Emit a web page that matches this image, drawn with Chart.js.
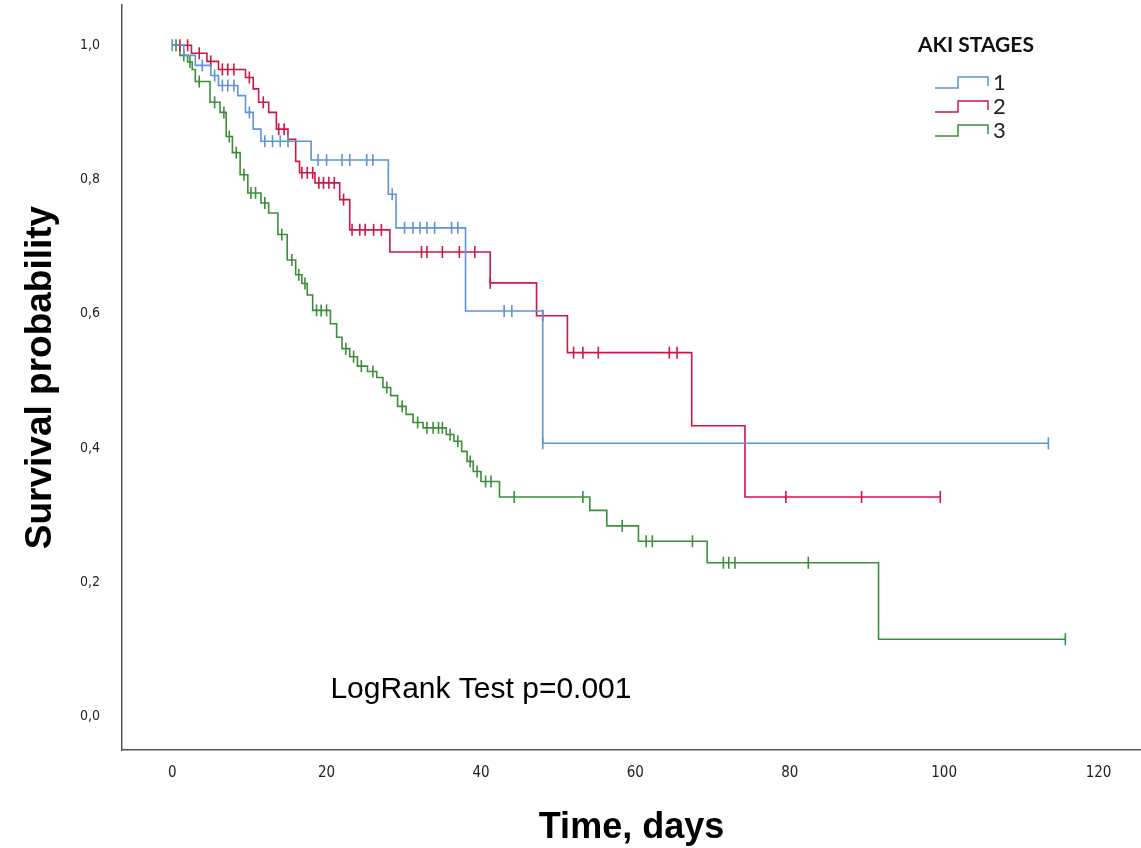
<!DOCTYPE html>
<html>
<head>
<meta charset="utf-8">
<script src="https://cdn.jsdelivr.net/npm/chart.js@4/dist/chart.umd.min.js"></script>
<style>
  body { margin: 0; background: #fff; }
  canvas { display: block; }
</style>
</head>
<body>
<canvas id="kmChart" width="1141" height="848"></canvas>
<script>
// tick labels
const xTicks = [0, 20, 40, 60, 80, 100, 120];
const yTicks = [0, 0.2, 0.4, 0.6, 0.8, 1.0];
const yTickLabels = ['0,0', '0,2', '0,4', '0,6', '0,8', '1,0'];

const stageLabels = ['1', '2', '3'];
const stageColors = ['#5e93d6', '#cc1745', '#3c8d3c'];

// stage 1 - event times (days) and survival after each step
const stage1Times = [0, 1.5, 3, 5, 6, 8.5, 9.5, 10.5, 11.5, 18, 28, 29, 38, 48];
const stage1Surv = [1, 0.985, 0.97, 0.955, 0.94, 0.925, 0.9, 0.875, 0.857, 0.829, 0.778, 0.728, 0.604, 0.407];
const stage1Censored = [0, 3.9, 5.5, 6.5, 7.2, 8, 10, 12, 13, 14, 15, 18.9, 20, 22, 23, 25.2, 26, 28.5,
  30.1, 31.2, 32.1, 33, 34, 36.2, 37, 43, 44, 48, 113.5];

// stage 2
const stage2Times = [0, 2.5, 4.5, 6, 9.5, 10.5, 11.2, 12.5, 13.5, 15, 16, 16.5, 18.5, 21.7, 23, 28.2, 41.2, 47.2, 51.2, 67.3, 74.2];
const stage2Surv = [1, 0.988, 0.976, 0.964, 0.952, 0.935, 0.915, 0.9, 0.875, 0.86, 0.827, 0.81, 0.795, 0.77, 0.725, 0.692, 0.646, 0.597, 0.542, 0.433, 0.327];
const stage2Censored = [1, 2, 3.5, 5, 6.5, 7.2, 8, 10, 11.8, 13.8, 14.5, 16.8, 17.5, 18.2, 19, 19.6, 20.3, 21, 22.2,
  23.3, 24.3, 25, 26.1, 27.1, 32.3, 33, 35, 37.2, 39.2, 41.2, 48, 52, 53.2, 55.2, 64.4, 65.4, 79.5, 89.3, 99.5];

// stage 3
const stage3Times = [0, 1, 2, 2.6, 3, 4.9, 6.2, 7, 7.8, 8.8, 9.8, 11.5, 12.5, 13.7, 14.9, 16, 16.8, 17.5, 18.2, 20.5,
  21.3, 22, 23, 24, 25.3, 26.5, 27.3, 28.3, 29.2, 30.3, 31.2, 32.5, 35.5, 36.5, 37.5, 38.2, 39, 40, 42.4, 54.1,
  56.3, 60.4, 69.3, 91.5];
const stage3Surv = [1, 0.985, 0.975, 0.964, 0.946, 0.915, 0.9, 0.864, 0.84, 0.807, 0.78, 0.765, 0.75, 0.718, 0.68,
  0.658, 0.645, 0.628, 0.605, 0.585, 0.565, 0.548, 0.536, 0.522, 0.514, 0.505, 0.49, 0.478, 0.462, 0.45, 0.438,
  0.43, 0.42, 0.41, 0.395, 0.38, 0.365, 0.35, 0.327, 0.307, 0.284, 0.261, 0.229, 0.115];
const stage3Censored = [0.5, 1.5, 2.3, 3.5, 5.5, 6.7, 7.4, 8.3, 9.3, 10.2, 10.8, 12, 14.2, 15.5, 16.4, 17.2, 18.7,
  19.3, 20, 22.5, 23.5, 24.5, 26, 27.8, 29.8, 31.8, 33, 33.8, 34.5, 35, 36, 37, 38.6, 39.5, 40.6, 41.3, 44.3,
  53.2, 58.3, 61.4, 62.2, 67.4, 71.4, 72.1, 72.9, 82.4, 115.7];

const legendTitle = 'AKI STAGES';
const noteText = 'LogRank Test p=0.001';
const noteX = 40;
const noteY = 0.04;

const stages = [
  { times: stage1Times, surv: stage1Surv, cens: stage1Censored },
  { times: stage2Times, surv: stage2Surv, cens: stage2Censored },
  { times: stage3Times, surv: stage3Surv, cens: stage3Censored },
];

const survAt = (times, surv, t) => {
  let s = surv[0];
  times.forEach((ti, i) => { if (ti <= t) s = surv[i]; });
  return s;
};

const datasets = [];
stages.forEach((st, i) => {
  const pts = st.times.map((t, j) => ({ x: t, y: st.surv[j] }));
  pts.push({ x: Math.max(...st.cens), y: st.surv[st.surv.length - 1] });
  datasets.push({
    label: stageLabels[i],
    data: pts,
    showLine: true,
    stepped: true,
    borderColor: stageColors[i],
    borderWidth: 1.6,
    pointRadius: 0,
    fill: false,
  });
  datasets.push({
    label: stageLabels[i] + ' censored',
    data: st.cens.map(t => ({ x: t, y: survAt(st.times, st.surv, t) })),
    showLine: false,
    pointStyle: 'line',
    rotation: 90,
    pointRadius: 6,
    pointBorderWidth: 1.6,
    borderColor: stageColors[i],
    backgroundColor: stageColors[i],
  });
});

const overlayPlugin = {
  id: 'overlay',
  afterDraw(chart) {
    const { ctx, scales: { x, y } } = chart;
    ctx.save();
    ctx.fillStyle = '#000';
    ctx.font = '30px "Liberation Sans", Arial, sans-serif';
    ctx.textAlign = 'center';
    ctx.textBaseline = 'middle';
    ctx.fillText(noteText, x.getPixelForValue(noteX), y.getPixelForValue(noteY));

    // legend
    ctx.textAlign = 'left';
    ctx.fillStyle = '#111';
    ctx.font = 'bold 21px Lato, sans-serif';
    ctx.fillText(legendTitle, 918, 45);
    stageLabels.forEach((lab, i) => {
      const yy = 83 + i * 24;
      ctx.strokeStyle = stageColors[i];
      ctx.lineWidth = 1.5;
      ctx.beginPath();
      ctx.moveTo(935, yy + 5);
      ctx.lineTo(958, yy + 5);
      ctx.lineTo(958, yy - 6);
      ctx.lineTo(988, yy - 6);
      ctx.lineTo(988, yy + 3);
      ctx.stroke();
      ctx.fillStyle = '#222';
      ctx.font = '22px Lato, sans-serif';
      ctx.fillText(lab, 993, yy);
    });
    ctx.restore();
  }
};

const ctx = document.getElementById('kmChart').getContext('2d');
const kmChart = new Chart(ctx, {
  type: 'scatter',
  data: { datasets: datasets },
  options: {
    responsive: false,
    animation: false,
    layout: { autoPadding: false, padding: { top: 5, right: 0, left: 0, bottom: 0 } },
    plugins: {
      legend: { display: false },
      tooltip: { enabled: false },
    },
    scales: {
      x: {
        type: 'linear',
        min: -6.5,
        max: 125.5,
        grid: { display: false, drawTicks: false },
        border: { display: true, color: '#555', width: 1.5 },
        afterBuildTicks: scale => { scale.ticks = xTicks.map(v => ({ value: v })); },
        afterFit: scale => {
          scale.height = 98;
          scale.paddingLeft = 0;
          scale.paddingRight = 0;
        },
        ticks: {
          padding: 14,
          color: '#222',
          font: { family: '"DejaVu Sans Condensed", "DejaVu Sans", sans-serif', size: 15 },
          callback: v => String(v),
        },
        title: {
          display: true,
          text: 'Time, days',
          color: '#000',
          font: { family: '"Liberation Sans Narrow", "Liberation Sans", sans-serif', size: 36, weight: 'bold', lineHeight: 1 },
          padding: { top: 0, bottom: 2 },
        },
      },
      y: {
        type: 'linear',
        min: -0.05,
        max: 1.06,
        grid: { display: false, drawTicks: false },
        border: { display: true, color: '#555', width: 1.5 },
        afterBuildTicks: scale => { scale.ticks = yTicks.map(v => ({ value: v })); },
        afterFit: scale => {
          scale.width = 122;
          scale.paddingTop = 0;
          scale.paddingBottom = 0;
        },
        ticks: {
          padding: 22,
          color: '#222',
          font: { family: '"DejaVu Sans Condensed", "DejaVu Sans", sans-serif', size: 14 },
          callback: v => yTickLabels[yTicks.findIndex(t => Math.abs(t - v) < 1e-6)],
        },
        title: {
          display: true,
          text: 'Survival probability',
          color: '#000',
          font: { family: '"Liberation Sans Narrow", "Liberation Sans", sans-serif', size: 37, weight: 'bold', lineHeight: 1 },
          padding: { top: 22, bottom: 0 },
        },
      },
    },
  },
  plugins: [overlayPlugin],
});
</script>
</body>
</html>
